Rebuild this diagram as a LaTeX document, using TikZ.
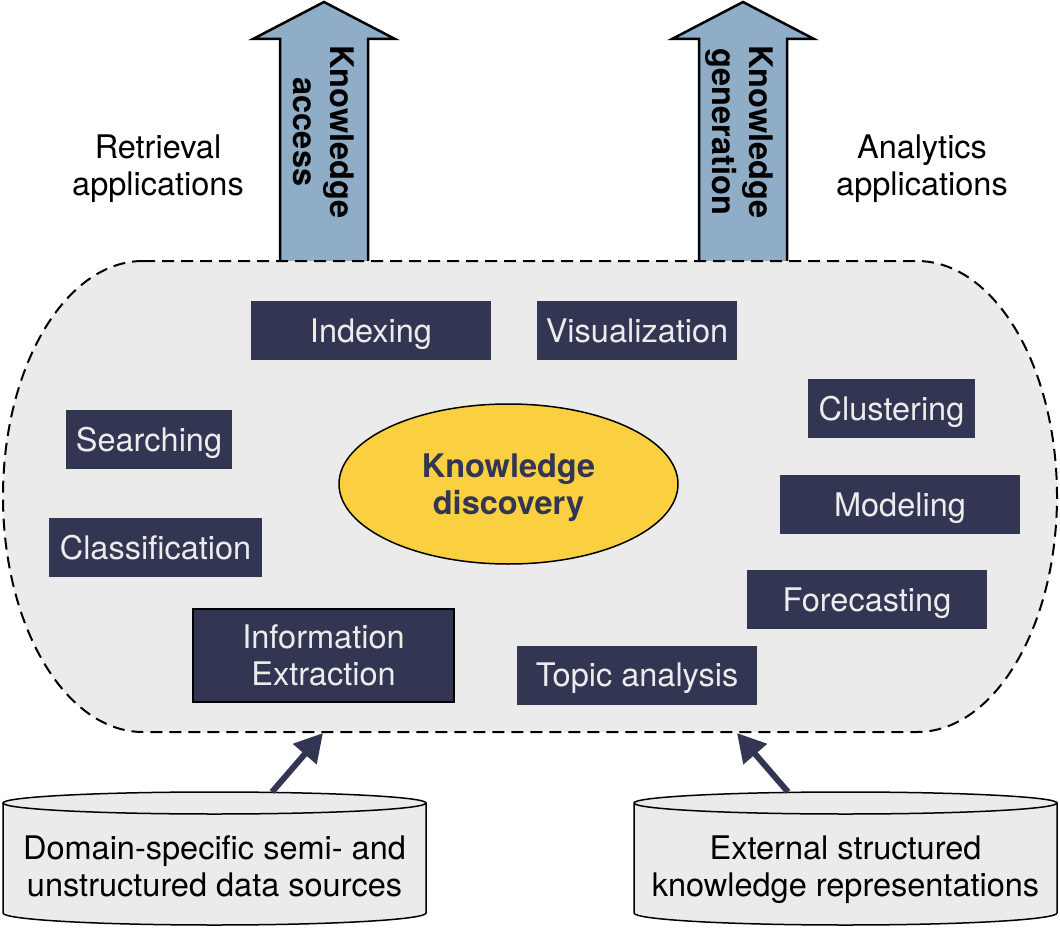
\documentclass[tikz,border=0pt]{standalone}
\usepackage{fontspec}
\setmainfont{TeX Gyre Heros}
\usetikzlibrary{arrows.meta,shapes.geometric}
\definecolor{navy}{RGB}{51,54,82}
\definecolor{boxtext}{RGB}{236,236,236}
\definecolor{cloudgray}{RGB}{235,235,235}
\definecolor{kdyellow}{RGB}{250,208,64}
\definecolor{arrowblue}{RGB}{143,173,198}
\begin{document}
\begin{tikzpicture}[x=1pt,y=-1pt,
  every node/.style={font=\fontsize{32.5}{37}\selectfont, text height=23pt, text depth=0pt,
    inner sep=0pt, align=center},
  twoline/.style={text height=60pt},
  boldtext/.style={font=\fontsize{32.5}{37}\selectfont\bfseries},
  task/.style={fill=navy, text=boxtext, minimum height=59pt},
  feed/.style={draw=navy, line width=6pt, -{Triangle[length=28pt,width=30pt]}},
  bigarrow/.style={line width=2.5pt, line join=miter},
  drum/.style={fill=cloudgray, draw=black, line width=1.5pt}]
\useasboundingbox (0,0) rectangle (1060,928);

% upward block arrows
\fill[arrowblue] (280,261) -- (280,39) -- (253,39) -- (324,2) -- (395,39) -- (368,39) -- (368,261) -- cycle;
\draw[bigarrow] (280,261) -- (280,39) -- (253,39) -- (324,2) -- (395,39) -- (368,39) -- (368,261);
\fill[arrowblue] (699,261) -- (699,39) -- (672,39) -- (743,2) -- (814,39) -- (787,39) -- (787,261) -- cycle;
\draw[bigarrow] (699,261) -- (699,39) -- (672,39) -- (743,2) -- (814,39) -- (787,39) -- (787,261);
\node[rotate=-90, twoline, boldtext] (access) at (323,132) {Knowledge\\access};
\node[rotate=-90, twoline, boldtext] (generation) at (742,132) {Knowledge\\generation};

% application labels
\node[twoline] (retrieval) at (158,166) {Retrieval\\applications};
\node[twoline] (analytics) at (922,166) {Analytics\\applications};

% dashed container
\fill[cloudgray] (143,261) -- (917,261)
  arc[start angle=-90,end angle=90,x radius=140,y radius=235.5] -- (143,732)
  arc[start angle=90,end angle=270,x radius=140,y radius=235.5] -- cycle;
\draw[line width=2pt, dash pattern=on 12pt off 7pt] (143,261) -- (917,261)
  arc[start angle=-90,end angle=90,x radius=140,y radius=235.5] -- (143,732)
  arc[start angle=90,end angle=270,x radius=140,y radius=235.5] -- cycle;

% task boxes
\node[task, minimum width=240pt] (indexing) at (371,330.5) {Indexing};
\node[task, minimum width=200pt] (visual) at (637,330.5) {Visualization};
\node[task, minimum width=166pt] (searching) at (149,439.5) {Searching};
\node[task, minimum width=167pt] (clustering) at (891.5,408.5) {Clustering};
\node[task, minimum width=240pt] (modeling) at (900,504.5) {Modeling};
\node[task, minimum width=213pt] (classification) at (155.5,547.5) {Classification};
\node[task, minimum width=240pt] (forecasting) at (867,599.5) {Forecasting};
\node[task, twoline, minimum width=261pt, minimum height=93pt, draw=black, line width=2pt] (extraction) at (323.5,655.5) {Information\\Extraction};
\node[task, minimum width=240pt] (topic) at (637,675) {Topic analysis};

% central ellipse
\node[ellipse, twoline, boldtext, fill=kdyellow, draw=black, line width=1.5pt,
  minimum width=339pt, minimum height=160pt, text=navy] (discovery) at (508.5,484) {Knowledge\\discovery};

% data sources
\filldraw[drum] (3,803) -- (3,913) arc[start angle=180,end angle=0,x radius=211.5,y radius=12]
  -- (426,803) arc[start angle=0,end angle=-180,x radius=211.5,y radius=11] -- cycle;
\draw[line width=1.5pt] (3,803) arc[start angle=180,end angle=0,x radius=211.5,y radius=11];
\filldraw[drum] (634,803) -- (634,913) arc[start angle=180,end angle=0,x radius=211.5,y radius=12]
  -- (1057,803) arc[start angle=0,end angle=-180,x radius=211.5,y radius=11] -- cycle;
\draw[line width=1.5pt] (634,803) arc[start angle=180,end angle=0,x radius=211.5,y radius=11];
\node[twoline] (domain) at (214.5,866) {Domain-specific semi- and\\unstructured data sources};
\node[twoline] (external) at (845.5,866) {External structured\\knowledge representations};

% feeds into the container
\coordinate (domainTop) at (272,792);
\coordinate (cloudInL) at (323,733);
\coordinate (externalTop) at (788,792);
\coordinate (cloudInR) at (737,733);
\draw[feed] (domainTop) -- (cloudInL);
\draw[feed] (externalTop) -- (cloudInR);
\end{tikzpicture}
\end{document}
